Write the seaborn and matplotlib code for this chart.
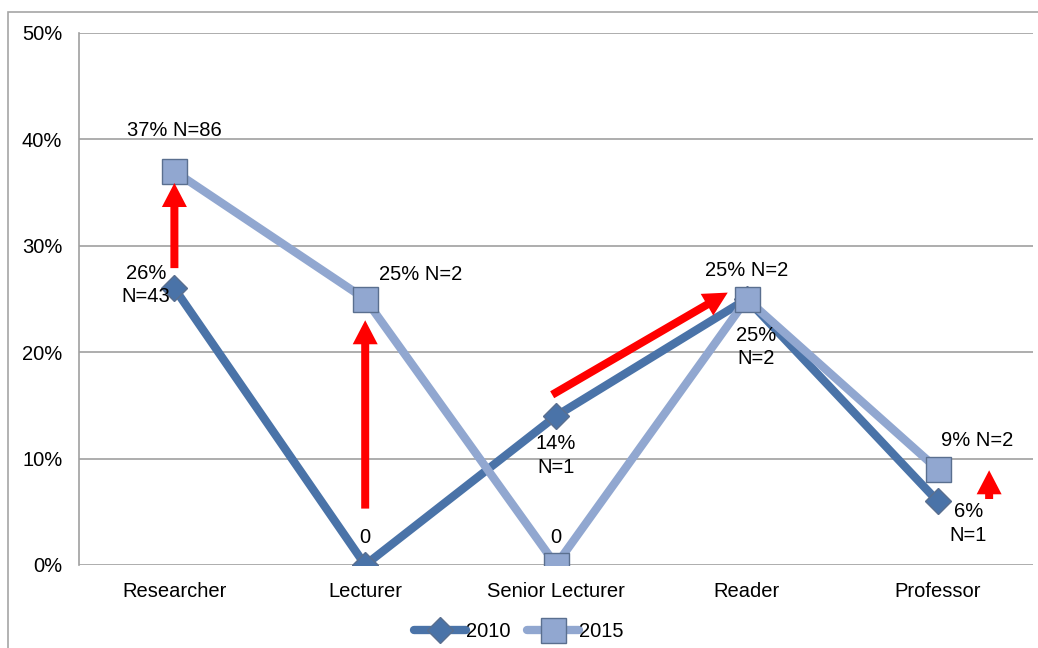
import numpy as np
import pandas as pd
import seaborn as sns
import matplotlib.pyplot as plt
from matplotlib.patches import Rectangle, FancyArrow
from matplotlib.transforms import IdentityTransform

categories = ["Researcher", "Lecturer", "Senior Lecturer", "Reader", "Professor"]
pct_2010 = [26, 0, 14, 25, 6]
pct_2015 = [37, 25, 0, 25, 9]
labels_2010 = ["26%\nN=43", "0", "14%\nN=1", "25%\nN=2", "6%\nN=1"]
labels_2015 = ["37% N=86", "25% N=2", "0", "25% N=2", "9% N=2"]
y_ticks = [0, 10, 20, 30, 40, 50]

df = pd.DataFrame({
    "pos": list(range(len(categories))) * 2,
    "value": pct_2010 + pct_2015,
    "year": ["2010"] * len(categories) + ["2015"] * len(categories),
})

sns.set_style("white")
plt.rcParams['font.family'] = ['Liberation Sans', 'DejaVu Sans']
plt.rcParams['font.size'] = 14.5
plt.rcParams['text.color'] = 'black'
plt.rcParams['xtick.color'] = 'black'
plt.rcParams['ytick.color'] = 'black'

fig = plt.figure(figsize=(10.38, 6.48), dpi=100)
ax = fig.add_axes([0.0761, 0.1281, 0.9191, 0.821])

# outer chart frame
fig.patches.append(Rectangle((8 / 1038, -0.1), 1.2, 1 - 12 / 648 + 0.1,
                             transform=fig.transFigure, fill=False,
                             edgecolor='#a6a6a6', lw=1.2))

colors = {"2010": "#4a73a8", "2015": "#91a7d0"}
markers = {"2010": "D", "2015": "s"}
msize = {"2010": 13, "2015": 18}

for yr in ["2010", "2015"]:
    sub = df[df.year == yr]
    sns.lineplot(data=sub, x="pos", y="value", ax=ax, color=colors[yr],
                 lw=6, marker=markers[yr], markersize=msize[yr],
                 markerfacecolor=colors[yr], markeredgecolor="#5a6f8f",
                 markeredgewidth=1, label=yr, sort=False, zorder=3)

ax.set_xlim(-0.5, 4.5)
ax.set_ylim(0, 50)
ax.set_yticks(y_ticks)
ax.set_yticklabels([f"{t}%" for t in y_ticks])
ax.set_xticks(range(len(categories)))
ax.set_xticklabels(categories)
ax.set_xlabel("")
ax.set_ylabel("")
ax.yaxis.grid(True, color='#a0a0a0', lw=1.2)
for s in ["top", "right", "bottom"]:
    ax.spines[s].set_visible(False)
ax.spines["left"].set_color('#a0a0a0')
ax.spines["left"].set_linewidth(1.2)
ax.tick_params(axis='x', length=0, pad=12)
ax.tick_params(axis='y', length=0, pad=12)

# data labels
ax.text(0, 40.8, labels_2015[0], ha='center', va='center')
ax.text(-0.15, 28.3, labels_2010[0], ha='center', va='top', linespacing=1.3)
ax.text(1.07, 27.3, labels_2015[1], ha='left', va='center')
ax.text(1.0, 2.6, labels_2010[1], ha='center', va='center')
ax.text(2.0, 12.3, labels_2010[2], ha='center', va='top', linespacing=1.3)
ax.text(2.0, 2.6, labels_2015[2], ha='center', va='center')
ax.text(3.0, 27.7, labels_2015[3], ha='center', va='center')
ax.text(3.05, 22.5, labels_2010[3], ha='center', va='top', linespacing=1.3)
ax.text(4.02, 11.7, labels_2015[4], ha='left', va='center')
ax.text(4.16, 5.9, labels_2010[4], ha='center', va='top', linespacing=1.3)

# red change arrows (data coords -> pixels so the heads keep their shape)
arrows = [((0, 27.9), (0, 35.9)),
          ((1, 5.3), (1, 23.0)),
          ((1.98, 16.0), (2.90, 25.6)),
          ((4.27, 6.2), (4.27, 8.9))]
for p0, p1 in arrows:
    x0, y0 = ax.transData.transform(p0)
    x1, y1 = ax.transData.transform(p1)
    fig.patches.append(FancyArrow(x0, y0, x1 - x0, y1 - y0, width=8,
                                  head_width=25, head_length=24,
                                  length_includes_head=True, color='red',
                                  lw=0, transform=IdentityTransform(),
                                  zorder=4))

leg = ax.legend(loc='lower center', bbox_to_anchor=(0.5, -0.017),
                bbox_transform=fig.transFigure, ncol=2, frameon=False,
                handlelength=2.6, columnspacing=0.8, handletextpad=0.0,
                fontsize=14.5)

fig.savefig("out.png", dpi=100)
